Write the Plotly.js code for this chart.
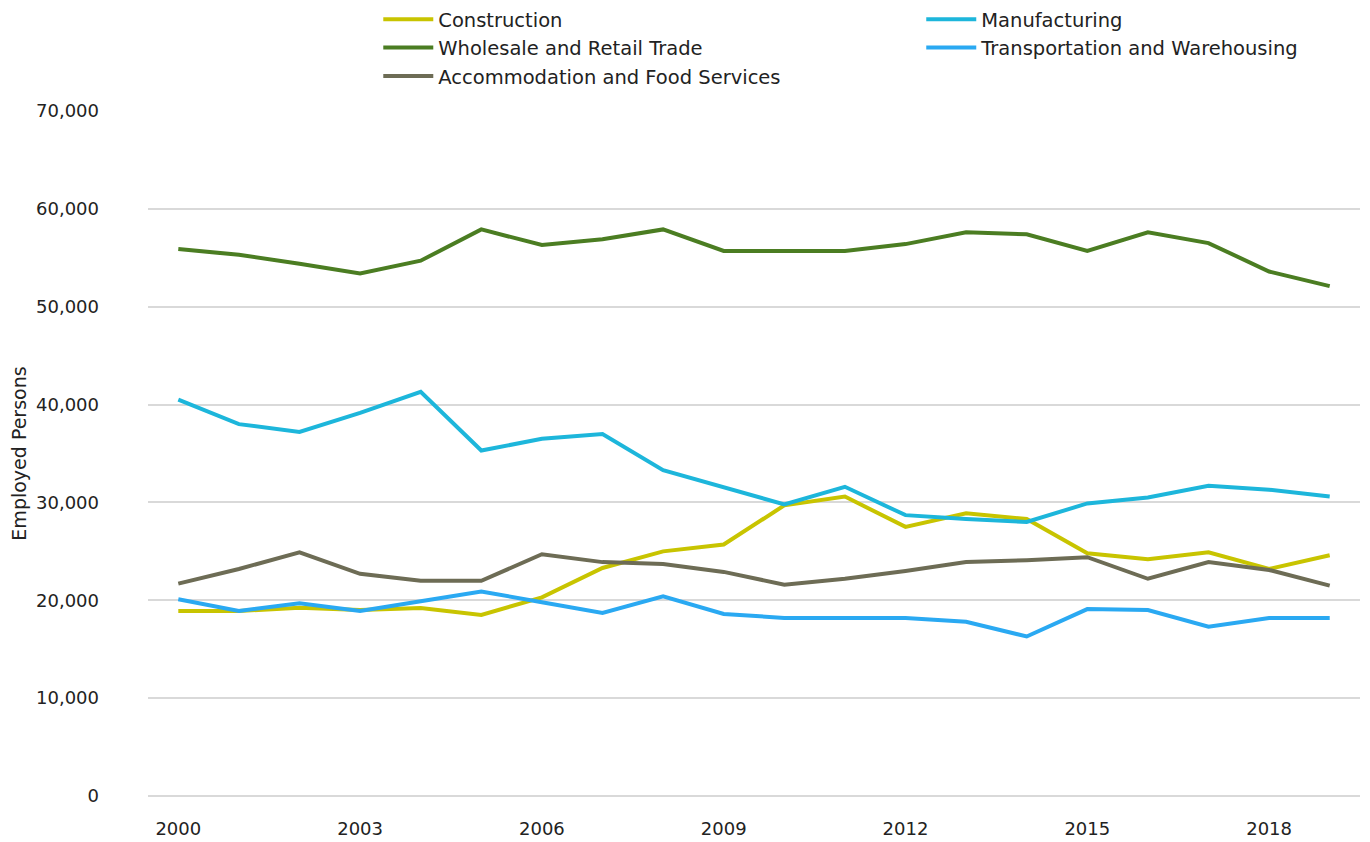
<!DOCTYPE html>
<html>
<head>
<meta charset="utf-8">
<script src="https://cdn.plot.ly/plotly-3.0.1.min.js"></script>
<style>html,body{margin:0;padding:0;background:#fff;}#chart{width:1370px;height:842px;}</style>
</head>
<body>
<div id="chart"></div>
<script>
const years = [2000,2001,2002,2003,2004,2005,2006,2007,2008,2009,2010,2011,2012,2013,2014,2015,2016,2017,2018,2019];
const construction = [18900,18900,19250,19000,19200,18500,20300,23300,25000,25700,29700,30600,27500,28900,28300,24800,24200,24900,23200,24600];
const manufacturing = [40500,38000,37200,39150,41300,35300,36500,37000,33300,31600,29800,31600,28700,28300,28000,29900,30500,31700,31300,30600];
const wholesale = [55900,55300,54400,53400,54700,57900,56300,56900,57900,55700,55700,55700,56400,57600,57400,55700,57600,56500,53600,52100];
const transportation = [20100,18900,19700,18900,19900,20900,19800,18700,20400,18600,18200,18200,18200,17800,16300,19100,19000,17300,18200,18200];
const accommodation = [21700,23200,24900,22700,22000,22000,24700,23900,23700,22900,21600,22200,23000,23900,24100,24400,22200,23900,23100,21500];
const tickYears = [2000,2003,2006,2009,2012,2015,2018];
const yTicks = [0,10000,20000,30000,40000,50000,60000,70000];

const series = [
  {name:'Construction', y:construction, color:'#c8c400', legend:'legend'},
  {name:'Manufacturing', y:manufacturing, color:'#1db6db', legend:'legend2'},
  {name:'Wholesale and Retail Trade', y:wholesale, color:'#4b7d22', legend:'legend'},
  {name:'Transportation and Warehousing', y:transportation, color:'#2aa9f2', legend:'legend2'},
  {name:'Accommodation and Food Services', y:accommodation, color:'#6d6c55', legend:'legend'}
];
const fontFam = '"DejaVu Sans", sans-serif';
const traces = series.map(s => ({
  type:'scatter', mode:'lines', x:years, y:s.y, name:s.name, legend:s.legend,
  line:{color:s.color, width:4}
}));
const legendBase = {orientation:'v', xanchor:'left', yanchor:'top', y:1.162,
  font:{size:19.5, color:'#222'}, itemwidth:50, tracegroupgap:0, bgcolor:'rgba(0,0,0,0)'};
const layout = {
  width:1370, height:842,
  margin:{l:148, r:10, t:111, b:46, autoexpand:false},
  paper_bgcolor:'#fff', plot_bgcolor:'#fff',
  font:{family:fontFam, size:18, color:'#333'},
  showlegend:true,
  legend:Object.assign({}, legendBase, {x:0.19}),
  legend2:Object.assign({}, legendBase, {x:0.638}),
  xaxis:{range:[1999.5,2019.5], tickvals:tickYears, ticktext:tickYears.map(String),
    showgrid:false, zeroline:false, showline:false, ticks:'', ticklabelstandoff:20,
    tickfont:{size:18, color:'#222'}},
  yaxis:{range:[0,70000], tickvals:yTicks, tickformat:',d', gridcolor:'#d9d9d9', gridwidth:2,
    zeroline:true, zerolinecolor:'#d9d9d9', zerolinewidth:2, showline:false, ticks:'',
    ticklabelstandoff:48, tickfont:{size:18, color:'#222'},
    title:{text:'Employed Persons', font:{size:19, color:'#222'}, standoff:4}}
};
Plotly.newPlot('chart', traces, layout, {displayModeBar:false, staticPlot:true});
</script>
</body>
</html>
